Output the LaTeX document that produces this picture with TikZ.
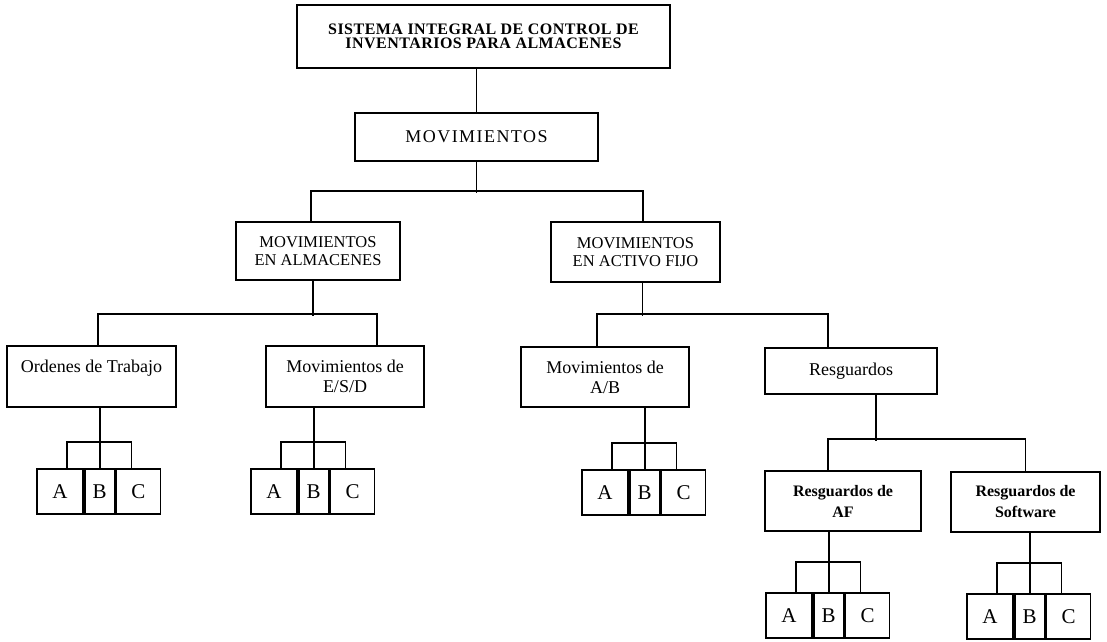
\documentclass[tikz,border=0pt]{standalone}
\usepackage{fontspec}
\setmainfont{Liberation Serif}
\begin{document}
\begin{tikzpicture}[x=1pt,y=-1pt,line width=1.8pt,
    caja/.style={draw,rectangle,align=center,inner sep=0pt},
    titulo/.style={caja,font=\bfseries\fontsize{16}{14.5}\selectfont\addfontfeature{LetterSpace=3}},
    grande/.style={caja,font=\fontsize{18}{20}\selectfont\addfontfeature{LetterSpace=8}},
    medio/.style={caja,font=\fontsize{16.5}{18}\selectfont},
    normal/.style={caja,font=\fontsize{18}{20}\selectfont},
    negrita/.style={caja,font=\bfseries\fontsize{16}{21}\selectfont},
    letra/.style={draw,rectangle,inner sep=0pt,minimum height=45,
      font=\fontsize{21}{21}\selectfont}]
    \useasboundingbox (0,0) rectangle (1107,641);
    \node[titulo,minimum width=373,minimum height=63] (sis) at (483.5,36.5)
      {SISTEMA INTEGRAL DE CONTROL DE\\INVENTARIOS PARA ALMACENES};
    \node[grande,minimum width=243,minimum height=48] (mov) at (476.5,137) {MOVIMIENTOS};
    \node[medio,minimum width=164,minimum height=58] (alm) at (318,251)
      {MOVIMIENTOS\\EN ALMACENES};
    \node[medio,minimum width=169,minimum height=60] (act) at (635.5,252)
      {MOVIMIENTOS\\EN ACTIVO FIJO};
    \node[normal,minimum width=169,minimum height=61] (ord) at (91.5,376.5)
      {Ordenes de Trabajo\\\mbox{}};
    \node[normal,minimum width=158,minimum height=61] (esd) at (345,376.5)
      {Movimientos de\\E/S/D};
    \node[normal,minimum width=168,minimum height=60] (ab) at (605,377)
      {Movimientos de\\A/B};
    \node[normal,minimum width=172,minimum height=46] (res) at (851,371) {Resguardos};
    \node[negrita,minimum width=156,minimum height=60] (raf) at (843,501)
      {Resguardos de\\AF};
    \node[negrita,minimum width=149,minimum height=60] (rsw) at (1025.5,502)
      {Resguardos de\\Software};
    % ramas
    \draw (sis.south -| mov.north) -- (mov.north);
    \draw (mov.south) -- ++(0,31);
    \draw ([xshift=-7pt]alm.north) -- ++(0,-30) -| ([xshift=7.5pt]act.north);
    \draw ([xshift=-5pt]alm.south) -- ++(0,35);
    \draw ([xshift=6.5pt]ord.north) -- ++(0,-31) -| ([xshift=32pt]esd.north);
    \draw ([xshift=7pt]act.south) -- ++(0,33);
    \draw ([xshift=-8pt]ab.north) -- ++(0,-32) -| ([xshift=-23pt]res.north);
    \draw ([xshift=25pt]res.south) -- ++(0,46);
    \draw ([xshift=-15pt]raf.north) -- ++(0,-31) -| (rsw.north);
    % grupos A B C
    \foreach \g/\p/\x/\y/\h in {g1/ord/36/468/26, g2/esd/250/468/26,
      g3/ab/581/469/26, g4/raf/765/592/30, g5/rsw/966/593/30}
    {
      \node[letra,anchor=north west,minimum width=46] (\g-A) at (\x,\y) {A};
      \node[letra,anchor=north west,minimum width=30] (\g-B) at (\g-A.north east) {B};
      \node[letra,anchor=north west,minimum width=44] (\g-C) at (\g-B.north east) {C};
      \draw ([xshift=7pt]\g-A.north) -- ++(0,-\h) -| ([xshift=-7pt]\g-C.north);
      \draw (\g-B.north) -- (\g-B.north |- \p.south);
    }
  \end{tikzpicture}
\end{document}
